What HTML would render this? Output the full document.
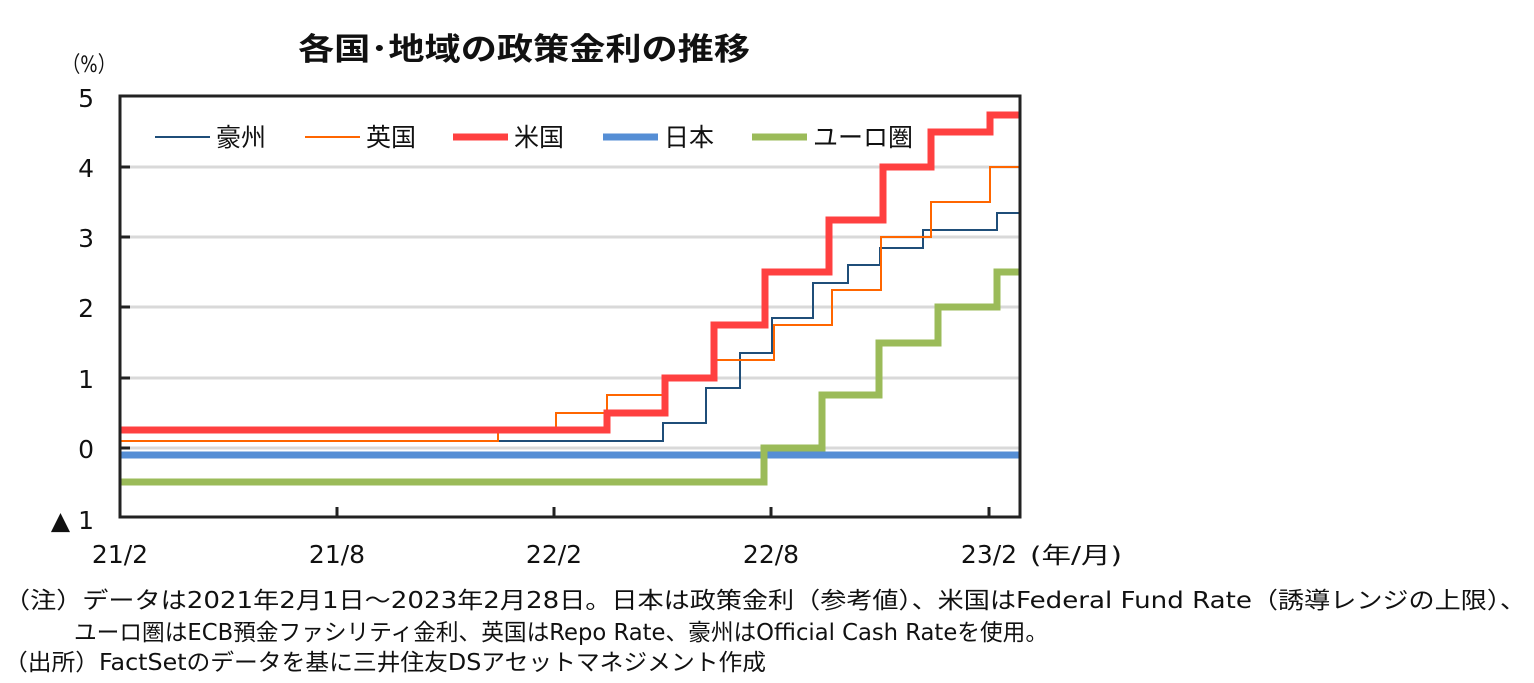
<!DOCTYPE html>
<html><head><meta charset="utf-8"><style>
body{margin:0;background:#fff}
svg text{font-family:"DejaVu Sans","Noto Sans CJK JP",sans-serif;fill:#111}
</style></head><body>
<svg width="1534" height="678" xmlns="http://www.w3.org/2000/svg">
<text x="298" y="60" font-size="31" font-weight="bold" textLength="452" lengthAdjust="spacingAndGlyphs">各国･地域の政策金利の推移</text>
<text x="62" y="72" font-size="22" textLength="54" lengthAdjust="spacingAndGlyphs">（%）</text>
<g stroke="#d9d9d9" stroke-width="3">
<line x1="120" y1="167" x2="1020" y2="167"/><line x1="120" y1="237" x2="1020" y2="237"/>
<line x1="120" y1="307" x2="1020" y2="307"/><line x1="120" y1="378" x2="1020" y2="378"/>
<line x1="120" y1="448" x2="1020" y2="448"/></g>
<g font-size="25" text-anchor="end">
<text x="94" y="107">5</text><text x="94" y="177">4</text><text x="94" y="247">3</text>
<text x="94" y="317">2</text><text x="94" y="388">1</text><text x="94" y="458">0</text>
<text x="94" y="529">▲ 1</text></g>
<g font-size="25" text-anchor="middle">
<text x="120" y="563">21/2</text><text x="337" y="563">21/8</text><text x="554" y="563">22/2</text>
<text x="771" y="563">22/8</text><text x="989" y="563">23/2</text></g>
<text x="1030" y="563" font-size="23" textLength="92" lengthAdjust="spacingAndGlyphs">(年/月)</text>
<g fill="none" stroke-linejoin="miter">
<polyline stroke="#1f4e79" stroke-width="2" points="120,441 663,441 663,423 706,423 706,388 740,388 740,353 772,353 772,318 813,318 813,283 848,283 848,265 880,265 880,248 923,248 923,230 997,230 997,213 1020,213"/>
<polyline stroke="#ff6600" stroke-width="2" points="120,441 498,441 498,430 556,430 556,413 607,413 607,395 665,395 665,378 714,378 714,360 774,360 774,325 832,325 832,290 881,290 881,237 931,237 931,202 990,202 990,167 1020,167"/>
<polyline stroke="#ff4040" stroke-width="7" points="120,430 607,430 607,413 665,413 665,378 714,378 714,325 765,325 765,272 829,272 829,220 883,220 883,167 931,167 931,132 990,132 990,115 1020,115"/>
<line stroke="#558ed5" stroke-width="7" x1="120" y1="455" x2="1020" y2="455"/>
<polyline stroke="#9bbb59" stroke-width="7" points="120,482 764,482 764,448 822,448 822,395 879,395 879,343 938,343 938,307 997,307 997,272 1020,272"/>
</g>
<g stroke="#222" stroke-width="3" fill="none">
<rect x="120" y="96" width="900" height="421"/>
<path d="M120 167h10M120 237h10M120 307h10M120 378h10M120 448h10M337 517v-10M554 517v-10M771 517v-10M989 517v-10"/></g>
<g font-size="25">
<line x1="155" y1="137" x2="210" y2="137" stroke="#1f4e79" stroke-width="2"/><text x="216" y="146">豪州</text>
<line x1="305" y1="137" x2="360" y2="137" stroke="#ff6600" stroke-width="2"/><text x="366" y="146">英国</text>
<line x1="453" y1="137" x2="508" y2="137" stroke="#ff4040" stroke-width="7"/><text x="514" y="146">米国</text>
<line x1="603" y1="137" x2="658" y2="137" stroke="#558ed5" stroke-width="7"/><text x="664" y="146">日本</text>
<line x1="752" y1="137" x2="807" y2="137" stroke="#9bbb59" stroke-width="7"/><text x="813" y="146">ユーロ圏</text>
</g>
<g font-size="23">
<text x="4" y="608" textLength="1522" lengthAdjust="spacingAndGlyphs">（注）データは2021年2月1日～2023年2月28日。日本は政策金利（参考値）、米国はFederal Fund Rate（誘導レンジの上限）、</text>
<text x="74" y="640" textLength="974" lengthAdjust="spacingAndGlyphs">ユーロ圏はECB預金ファシリティ金利、英国はRepo Rate、豪州はOfficial Cash Rateを使用。</text>
<text x="4" y="670" textLength="762" lengthAdjust="spacingAndGlyphs">（出所）FactSetのデータを基に三井住友DSアセットマネジメント作成</text>
</g>
</svg>
</body></html>
